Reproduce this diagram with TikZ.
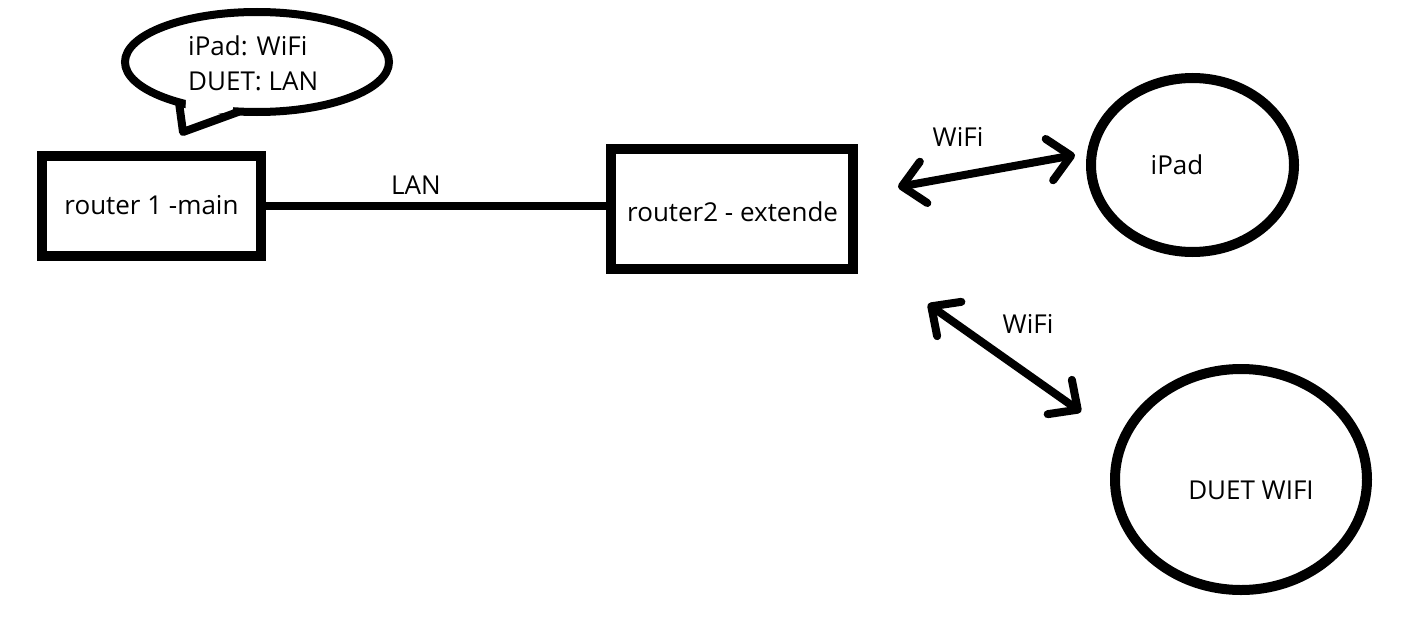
\documentclass[tikz,border=0pt]{standalone}
\usepackage{fontspec}
\setmainfont{Open Sans}
\usetikzlibrary{arrows.meta,shapes.geometric}
\begin{document}
\begin{tikzpicture}[x=1pt,y=-1pt,
  every node/.style={font=\fontsize{26}{31}\selectfont, text=black, inner sep=0pt},
  boxnode/.style={draw, line width=10pt, rectangle},
  devnode/.style={draw, line width=10pt, ellipse},
  wire/.style={line width=8pt},
  wifi/.style={line width=8pt, line cap=round, line join=round,
    {Straight Barb[length=22pt,width=42pt,line cap=round,line join=round]}-{Straight Barb[length=22pt,width=42pt,line cap=round,line join=round]}},
  bubble/.style={line width=8pt, line cap=round, line join=round}
]
\useasboundingbox (0,0) rectangle (1408,626);

% router 1
\node[boxnode, minimum width=219pt, minimum height=100pt] (r1) at (151.5,205.5) {router 1 -main};
% router 2
\node[boxnode, minimum width=242pt, minimum height=120pt] (r2) at (732,209) {};
\node[anchor=west] (r2t) at (627,212) {router2 - extende};
% LAN
\draw[wire] (r1.east) -- (r2.west |- r1.east);
\node (lan) at (416,185) {LAN};

% bubble
\node[draw, line width=8pt, ellipse, minimum width=264pt, minimum height=100pt] (bub) at (257,62) {};
\fill[white] (186,100) -- (185,118) -- (232,112) -- (234,104) -- cycle;
\draw[bubble] (179,102.5) -- (183,132) -- (238,112);
\node[anchor=west] (b1) at (188,46) {iPad: WiFi};
\node[anchor=west] (b2) at (188,81) {DUET: LAN};

% devices
\node[devnode, minimum width=203pt, minimum height=174pt] (ipad) at (1192.5,165) {};
\node (ipadt) at (1177,165) {iPad};
\node[devnode, minimum width=252pt, minimum height=221pt] (duet) at (1241,479.5) {};
\node (duett) at (1251,490) {DUET WIFI};

% wifi arrows
\coordinate (a1s) at (898,187);
\coordinate (a1e) at (1075,155);
\draw[wifi] (a1s) -- (a1e);
\node (w1) at (958,137) {WiFi};
\coordinate (a2s) at (928,304);
\coordinate (a2e) at (1081,412);
\draw[wifi] (a2s) -- (a2e);
\node (w2) at (1028,324) {WiFi};
\end{tikzpicture}
\end{document}
